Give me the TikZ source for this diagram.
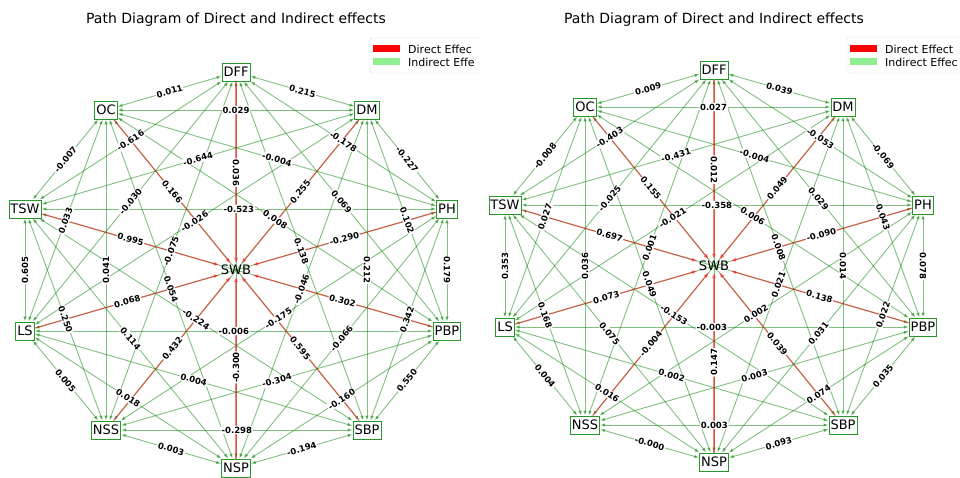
\documentclass[tikz,border=0pt]{standalone}
\usepackage{fontspec}
\setmainfont{DejaVu Sans}
\usetikzlibrary{arrows.meta}

\definecolor{effgreen}{RGB}{0,128,0}
\definecolor{boxgreen}{RGB}{40,150,40}
\definecolor{leggreen}{RGB}{144,238,144}
\definecolor{leggray}{RGB}{215,215,215}

\pgfdeclarelayer{front}
\pgfsetlayers{main,front}

% indirect effect: green edge, label on top of all lines
\newcommand{\indeff}[3]{%
  \draw[indirect] (#1) -- (#2);
  \begin{pgfonlayer}{front}
    \path (#1) -- node[lbl] {#3} (#2);
  \end{pgfonlayer}}
% direct effect: red edge into SWB
\newcommand{\direff}[3]{%
  \draw[direct] (#1) -- (#2);
  \begin{pgfonlayer}{front}
    \path (#1) -- node[lbl] {#3} (#2);
  \end{pgfonlayer}}

\begin{document}
\begin{tikzpicture}[x=1pt, y=-1pt,
  var/.style={draw=boxgreen, fill=white, line width=0.8pt, inner sep=1.5pt,
              minimum height=18pt, font=\fontsize{13}{13}\selectfont},
  outc/.style={inner sep=1pt, font=\fontsize{13}{13}\selectfont},
  indirect/.style={{Latex[length=5pt,width=3.5pt]}-{Latex[length=5pt,width=3.5pt]},
                   effgreen, opacity=0.5, line width=0.9pt},
  direct/.style={-{Latex[length=6pt,width=4pt]}, red, opacity=0.5, line width=1.2pt},
  lbl/.style={midway, sloped, fill=white, inner sep=0.8pt, rounded corners=1pt,
              font=\bfseries\fontsize{8.5}{9}\selectfont},
  ttl/.style={font=\fontsize{14}{14}\selectfont},
  leg/.style={anchor=west, inner sep=0pt, font=\fontsize{11}{11}\selectfont}
]
  \useasboundingbox (0,0) rectangle (960,478);

  % --- Titles and legends ---
  \node[ttl] (ttl1) at (236,20) {Path Diagram of Direct and Indirect effects};
  \node[ttl] (ttl2) at (714,20) {Path Diagram of Direct and Indirect effects};

  \draw[leggray, rounded corners=2pt] (480,38) -- (370,38) -- (370,73) -- (480,73);
  \fill[red] (373,45) rectangle (400,52);
  \fill[leggreen] (373,58) rectangle (400,65);
  \node[leg] (legd1) at (408,49) {Direct Effec};
  \node[leg] (legi1) at (408,62) {Indirect Effe};

  \draw[leggray, rounded corners=2pt] (960,37) -- (847,37) -- (847,73) -- (960,73);
  \fill[red] (850,45) rectangle (877,52);
  \fill[leggreen] (850,58) rectangle (877,65);
  \node[leg] (legd2) at (885,49) {Direct Effect};
  \node[leg] (legi2) at (885,62) {Indirect Effec};

  % --- Left diagram: variables ---
  \begin{pgfonlayer}{front}
    \node[var] (dff1) at (236,72)  {DFF};
    \node[var] (dm1)  at (367,110) {DM};
    \node[var] (ph1)  at (447,209) {PH};
    \node[var] (pbp1) at (447,331) {PBP};
    \node[var] (sbp1) at (367,430) {SBP};
    \node[var] (nsp1) at (236,468) {NSP};
    \node[var] (nss1) at (106,430) {NSS};
    \node[var] (ls1)  at (25,331)  {LS};
    \node[var] (tsw1) at (25,209)  {TSW};
    \node[var] (oc1)  at (106,110) {OC};
    \node[outc] (swb1) at (236,270) {SWB};
  \end{pgfonlayer}

  % --- Left diagram: indirect effects ---
  \indeff{dff1}{dm1}{0.215}
  \indeff{dm1}{ph1}{-0.227}
  \indeff{ph1}{pbp1}{0.179}
  \indeff{pbp1}{sbp1}{0.550}
  \indeff{sbp1}{nsp1}{-0.194}
  \indeff{nsp1}{nss1}{0.003}
  \indeff{nss1}{ls1}{0.005}
  \indeff{ls1}{tsw1}{0.605}
  \indeff{tsw1}{oc1}{-0.007}
  \indeff{oc1}{dff1}{0.011}

  \indeff{dff1}{ph1}{-0.178}
  \indeff{dm1}{pbp1}{0.102}
  \indeff{ph1}{sbp1}{0.342}
  \indeff{pbp1}{nsp1}{-0.160}
  \indeff{sbp1}{nss1}{-0.298}
  \indeff{nsp1}{ls1}{0.018}
  \indeff{nss1}{tsw1}{0.250}
  \indeff{ls1}{oc1}{0.033}
  \indeff{tsw1}{dff1}{-0.616}
  \indeff{oc1}{dm1}{0.029}

  \indeff{dff1}{pbp1}{0.069}
  \indeff{dm1}{sbp1}{0.212}
  \indeff{ph1}{nsp1}{-0.066}
  \indeff{pbp1}{nss1}{-0.304}
  \indeff{sbp1}{ls1}{0.004}
  \indeff{nsp1}{tsw1}{0.114}
  \indeff{nss1}{oc1}{0.041}
  \indeff{ls1}{dff1}{-0.030}
  \indeff{tsw1}{dm1}{-0.644}
  \indeff{oc1}{ph1}{-0.004}

  \indeff{dff1}{sbp1}{0.138}
  \indeff{dm1}{nsp1}{-0.046}
  \indeff{ph1}{nss1}{-0.175}
  \indeff{pbp1}{ls1}{-0.006}
  \indeff{sbp1}{tsw1}{-0.224}
  \indeff{nsp1}{oc1}{0.054}
  \indeff{nss1}{dff1}{-0.075}
  \indeff{ls1}{dm1}{-0.026}
  \indeff{tsw1}{ph1}{-0.523}
  \indeff{oc1}{pbp1}{0.008}

  \draw[indirect] (dff1) -- (nsp1);
  \draw[indirect] (dm1) -- (nss1);
  \draw[indirect] (ph1) -- (ls1);
  \draw[indirect] (pbp1) -- (tsw1);
  \draw[indirect] (sbp1) -- (oc1);

  % --- Left diagram: direct effects ---
  \direff{dff1}{swb1}{0.036}
  \direff{dm1}{swb1}{0.255}
  \direff{ph1}{swb1}{-0.290}
  \direff{pbp1}{swb1}{0.302}
  \direff{sbp1}{swb1}{0.595}
  \direff{nsp1}{swb1}{-0.300}
  \direff{nss1}{swb1}{0.432}
  \direff{ls1}{swb1}{0.068}
  \direff{tsw1}{swb1}{0.995}
  \direff{oc1}{swb1}{0.166}

  % --- Right diagram: variables ---
  \begin{pgfonlayer}{front}
    \node[var] (dff2) at (714,70)  {DFF};
    \node[var] (dm2)  at (843,107) {DM};
    \node[var] (ph2)  at (923,205) {PH};
    \node[var] (pbp2) at (923,327) {PBP};
    \node[var] (sbp2) at (843,425) {SBP};
    \node[var] (nsp2) at (714,462) {NSP};
    \node[var] (nss2) at (585,425) {NSS};
    \node[var] (ls2)  at (505,327) {LS};
    \node[var] (tsw2) at (505,205) {TSW};
    \node[var] (oc2)  at (585,107) {OC};
    \node[outc] (swb2) at (714,266) {SWB};
  \end{pgfonlayer}

  % --- Right diagram: indirect effects ---
  \indeff{dff2}{dm2}{0.039}
  \indeff{dm2}{ph2}{-0.069}
  \indeff{ph2}{pbp2}{0.078}
  \indeff{pbp2}{sbp2}{0.035}
  \indeff{sbp2}{nsp2}{0.093}
  \indeff{nsp2}{nss2}{-0.000}
  \indeff{nss2}{ls2}{0.004}
  \indeff{ls2}{tsw2}{0.353}
  \indeff{tsw2}{oc2}{-0.008}
  \indeff{oc2}{dff2}{0.009}

  \indeff{dff2}{ph2}{-0.053}
  \indeff{dm2}{pbp2}{0.043}
  \indeff{ph2}{sbp2}{0.022}
  \indeff{pbp2}{nsp2}{0.074}
  \indeff{sbp2}{nss2}{0.003}
  \indeff{nsp2}{ls2}{0.016}
  \indeff{nss2}{tsw2}{0.168}
  \indeff{ls2}{oc2}{0.027}
  \indeff{tsw2}{dff2}{-0.403}
  \indeff{oc2}{dm2}{0.027}

  \indeff{dff2}{pbp2}{0.029}
  \indeff{dm2}{sbp2}{0.014}
  \indeff{ph2}{nsp2}{0.031}
  \indeff{pbp2}{nss2}{0.003}
  \indeff{sbp2}{ls2}{0.002}
  \indeff{nsp2}{tsw2}{0.075}
  \indeff{nss2}{oc2}{0.036}
  \indeff{ls2}{dff2}{-0.025}
  \indeff{tsw2}{dm2}{-0.431}
  \indeff{oc2}{ph2}{-0.004}

  \indeff{dff2}{sbp2}{0.008}
  \indeff{dm2}{nsp2}{0.021}
  \indeff{ph2}{nss2}{0.002}
  \indeff{pbp2}{ls2}{-0.003}
  \indeff{sbp2}{tsw2}{-0.153}
  \indeff{nsp2}{oc2}{0.049}
  \indeff{nss2}{dff2}{0.001}
  \indeff{ls2}{dm2}{-0.021}
  \indeff{tsw2}{ph2}{-0.358}
  \indeff{oc2}{pbp2}{0.006}

  \draw[indirect] (dff2) -- (nsp2);
  \draw[indirect] (dm2) -- (nss2);
  \draw[indirect] (ph2) -- (ls2);
  \draw[indirect] (pbp2) -- (tsw2);
  \draw[indirect] (sbp2) -- (oc2);

  % --- Right diagram: direct effects ---
  \direff{dff2}{swb2}{0.012}
  \direff{dm2}{swb2}{0.049}
  \direff{ph2}{swb2}{-0.090}
  \direff{pbp2}{swb2}{0.138}
  \direff{sbp2}{swb2}{0.039}
  \direff{nsp2}{swb2}{0.147}
  \direff{nss2}{swb2}{-0.004}
  \direff{ls2}{swb2}{0.073}
  \direff{tsw2}{swb2}{0.697}
  \direff{oc2}{swb2}{0.155}
\end{tikzpicture}
\end{document}
